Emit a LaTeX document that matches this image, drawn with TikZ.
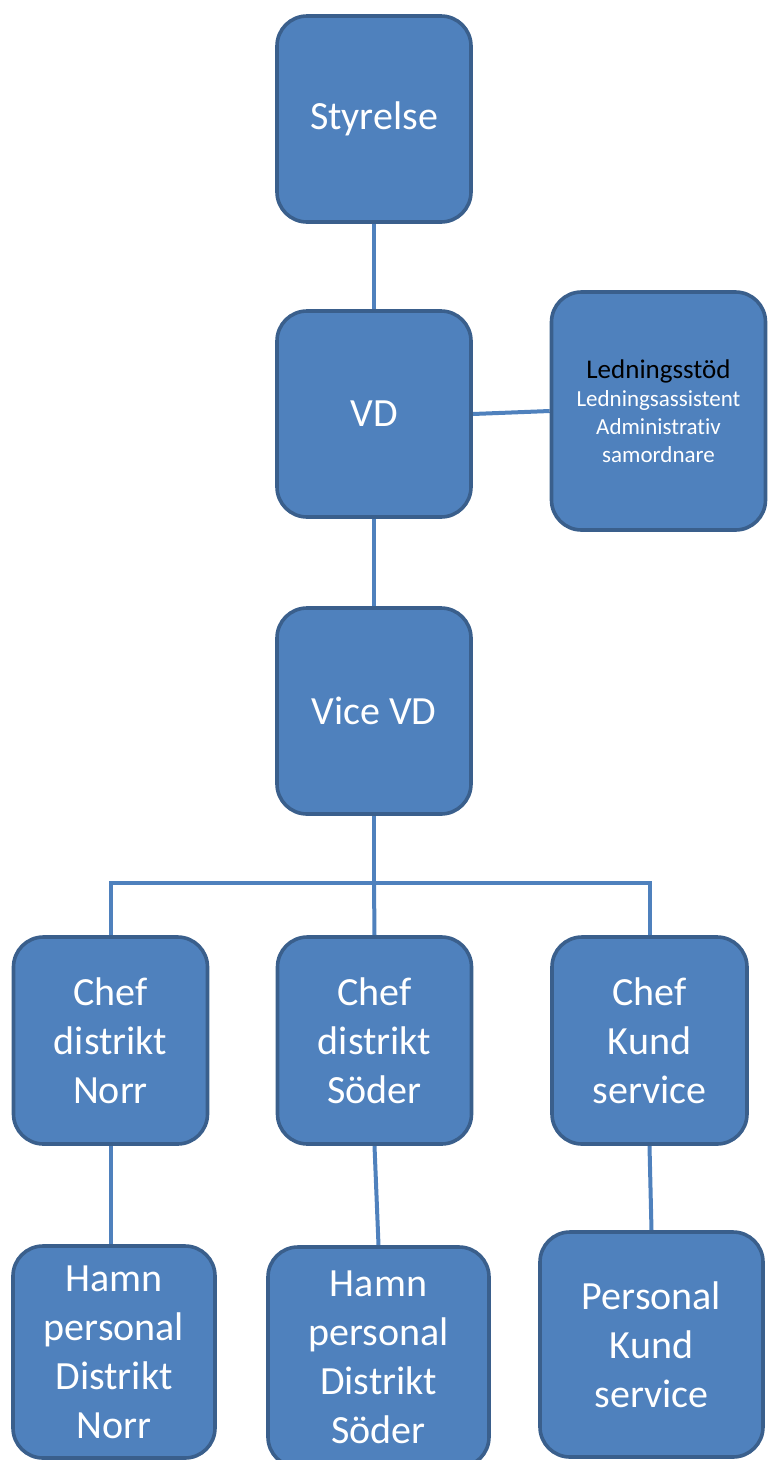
\documentclass[tikz,border=0pt]{standalone}
\usepackage{fontspec}
\setmainfont{Carlito}[Ligatures=NoCommon]
\usetikzlibrary{backgrounds}
\definecolor{boxfill}{HTML}{4F81BD}
\definecolor{boxline}{HTML}{3A5F8C}
\begin{document}
\begin{tikzpicture}[x=1pt,y=-1pt,
  orgbox/.style={draw=boxline, line width=3.6pt, fill=boxfill, rounded corners=30pt,
    text=white, align=center, inner sep=0pt,
    font=\fontsize{40}{49}\selectfont},
  conn/.style={draw=boxfill, line width=4pt}]
\useasboundingbox (0,0) rectangle (768,1460);
\node[orgbox, minimum width=194pt, minimum height=206pt] (sty) at (374,119) {\raisebox{-3pt}{Styrelse}};
\node[orgbox, minimum width=194pt, minimum height=206pt] (vd) at (374,414) {VD};
\node[orgbox, minimum width=214pt, minimum height=238pt, font=\fontsize{23}{28}\selectfont] (led) at (658.5,411)
  {{\fontsize{27}{30}\selectfont\color{black}Ledningsstöd}\\
   Ledningsassistent\\
   Administrativ\\
   samordnare};
\node[orgbox, minimum width=194pt, minimum height=206pt] (vice) at (374,711) {Vice VD};
\node[orgbox, minimum width=194pt, minimum height=207pt] (chefN) at (110.5,1040.5) {Chef\\distrikt\\Norr};
\node[orgbox, minimum width=194pt, minimum height=207pt] (chefS) at (374.5,1040.5) {Chef\\distrikt\\Söder};
\node[orgbox, minimum width=195pt, minimum height=207pt] (chefK) at (649.5,1040.5) {Chef\\Kund\\service};
\node[orgbox, minimum width=202pt, minimum height=212pt] (hamnN) at (114,1352) {Hamn\\personal\\Distrikt\\Norr};
\node[orgbox, minimum width=221pt, minimum height=220pt] (hamnS) at (378.5,1357) {Hamn\\personal\\Distrikt\\Söder};
\node[orgbox, minimum width=223pt, minimum height=225pt] (persK) at (651.5,1344.5) {Personal\\Kund\\service};
\coordinate (bar) at (374,883);
\begin{scope}[on background layer]
\draw[conn] (sty.south) -- (vd.north);
\draw[conn] (vd.east) -- (led.west);
\draw[conn] (vd.south) -- (vice.north);
\draw[conn] (vice.south) -- (bar);
\draw[conn] (chefN.north) |- (bar) -| (chefK.north);
\draw[conn] (bar) -- (chefS.north);
\draw[conn] (chefN.south) -- (chefN.south |- hamnN.north);
\draw[conn] (chefS.south) -- (hamnS.north);
\draw[conn] (chefK.south) -- (persK.north);
\end{scope}
\end{tikzpicture}
\end{document}
